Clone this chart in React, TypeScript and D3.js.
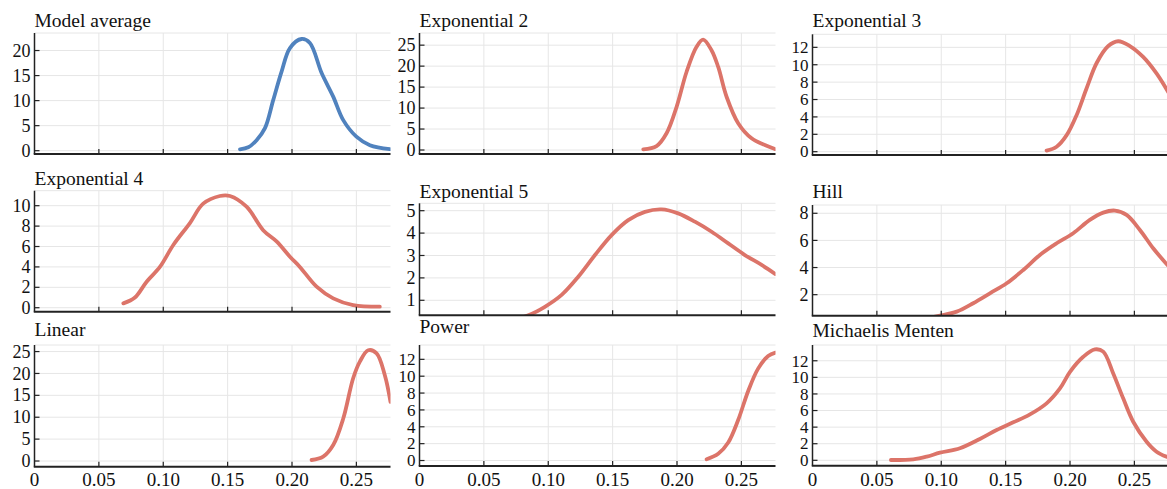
import * as d3 from 'd3';

const W = 1167;
const H = 489;

const BLUE = '#5082be';
const RED = '#dc7469';

const titles = ['Model average', 'Exponential 2', 'Exponential 3', 'Exponential 4', 'Exponential 5', 'Hill', 'Linear', 'Power', 'Michaelis Menten'];

const xTicks = [0, 0.05, 0.1, 0.15, 0.2, 0.25];
const xTickLabels = ['0', '0.05', '0.10', '0.15', '0.20', '0.25'];

// y tick values per panel
const yTicksModelAvg = [0, 5, 10, 15, 20];
const yTicksExp2 = [0, 5, 10, 15, 20, 25];
const yTicksExp3 = [0, 2, 4, 6, 8, 10, 12];
const yTicksExp4 = [0, 2, 4, 6, 8, 10];
const yTicksExp5 = [1, 2, 3, 4, 5];
const yTicksHill = [2, 4, 6, 8];
const yTicksLinear = [0, 5, 10, 15, 20, 25];
const yTicksPower = [0, 2, 4, 6, 8, 10, 12];
const yTicksMM = [0, 2, 4, 6, 8, 10, 12];

// density curves: [x, density]
const modelAvg = [[0.1596, 0.28], [0.166, 0.68], [0.1725, 2.1], [0.179, 4.5], [0.1854, 10.1], [0.1919, 15.8], [0.1984, 20.5], [0.2074, 22.3], [0.2139, 21.5], [0.223, 15.5], [0.232, 10.8], [0.2398, 6.1], [0.25, 2.8], [0.2605, 1.1], [0.276, 0.3]];
const exp2 = [[0.1738, 0.17], [0.1841, 0.95], [0.1919, 4.0], [0.1997, 10.3], [0.2074, 18.6], [0.2152, 24.6], [0.2203, 26.3], [0.2268, 23.8], [0.232, 19.8], [0.2385, 12.7], [0.2475, 6.4], [0.2579, 2.8], [0.2682, 1.2], [0.276, 0.24]];
const exp3 = [[0.1818, 0.12], [0.1896, 0.57], [0.1974, 1.9], [0.2051, 4.2], [0.2129, 7.3], [0.2207, 10.2], [0.2297, 12.15], [0.2374, 12.7], [0.2465, 12.15], [0.2568, 10.9], [0.2672, 9.0], [0.2765, 6.8]];
const exp4 = [[0.069, 0.43], [0.078, 1.0], [0.0871, 2.55], [0.0974, 4.0], [0.1078, 6.15], [0.1207, 8.3], [0.131, 10.2], [0.144, 10.95], [0.1518, 10.95], [0.1647, 9.9], [0.1776, 7.6], [0.188, 6.5], [0.1984, 5.0], [0.2061, 4.0], [0.2191, 2.06], [0.232, 0.92], [0.2475, 0.26], [0.2682, 0.1]];
const exp5 = [[0.07, 0.1], [0.0845, 0.33], [0.0974, 0.71], [0.1104, 1.24], [0.1233, 2.05], [0.1363, 3.02], [0.1492, 3.91], [0.1621, 4.58], [0.1751, 4.95], [0.188, 5.06], [0.2009, 4.88], [0.2139, 4.51], [0.2269, 4.06], [0.2398, 3.54], [0.2527, 3.02], [0.2657, 2.58], [0.2765, 2.17]];
const hill = [[0.085, 0.2], [0.099, 0.45], [0.112, 0.75], [0.1248, 1.37], [0.1378, 2.1], [0.1508, 2.84], [0.1637, 3.82], [0.1766, 4.93], [0.1896, 5.79], [0.2025, 6.53], [0.2154, 7.51], [0.2258, 8.05], [0.2349, 8.2], [0.2439, 7.88], [0.2543, 6.77], [0.2646, 5.42], [0.2765, 4.1]];
const linear = [[0.2152, 0.23], [0.2242, 0.99], [0.232, 3.65], [0.2398, 9.7], [0.2475, 18.9], [0.2527, 22.7], [0.2592, 25.3], [0.2657, 24.6], [0.2721, 19.6], [0.2765, 13.5]];
const power = [[0.223, 0.15], [0.232, 0.8], [0.2398, 2.14], [0.2475, 4.8], [0.2553, 8.25], [0.263, 10.9], [0.2708, 12.4], [0.2765, 12.8]];
const michaelis = [[0.0609, 0.04], [0.0783, 0.12], [0.0887, 0.44], [0.099, 0.92], [0.1145, 1.45], [0.13, 2.57], [0.143, 3.65], [0.1559, 4.58], [0.1689, 5.54], [0.1818, 6.87], [0.1922, 8.67], [0.2, 10.67], [0.2103, 12.48], [0.2193, 13.37], [0.2258, 13.1], [0.2335, 10.5], [0.2413, 7.47], [0.2491, 4.65], [0.2595, 2.24], [0.2672, 1.04], [0.275, 0.43]];

const seriesList = [modelAvg, exp2, exp3, exp4, exp5, hill, linear, power, michaelis];
const yTicksList = [yTicksModelAvg, yTicksExp2, yTicksExp3, yTicksExp4, yTicksExp5, yTicksHill, yTicksLinear, yTicksPower, yTicksMM];
const yDomains = [[-0.66, 23.5], [-0.95, 27.9], [-0.38, 13.5], [-0.39, 11.47], [0.33, 5.33], [0.45, 8.61], [-1.3, 26.5], [-0.65, 13.7], [-0.65, 13.9]];

// panel boxes: left, top, bottom, title baseline
const panelLefts = [34.5, 419.5, 812.5, 34.5, 419.5, 812.5, 34.5, 419.5, 812.5];
const panelTops = [33, 33, 34.3, 190.7, 203.3, 205, 345, 345, 345];
const panelBottoms = [154, 154, 155, 311.7, 315.3, 315.7, 466.7, 466, 465.7];
const titleBaselines = [26.7, 26.7, 26.7, 185, 198.3, 198.3, 335.7, 333.3, 336.7];

const X_MAX = 0.2765;
const PANEL_W = 356;
const FONT = '"Liberation Serif", "Times New Roman", serif';

function Panel({ i }: { i: number }) {
  const left = panelLefts[i];
  const top = panelTops[i];
  const bottom = panelBottoms[i];
  const x = d3.scaleLinear().domain([0, X_MAX]).range([left, left + PANEL_W]);
  const y = d3.scaleLinear().domain(yDomains[i]).range([bottom, top]);
  const line = d3
    .line<number[]>()
    .x(d => x(d[0]))
    .y(d => y(d[1]))
    .curve(d3.curveCatmullRom.alpha(0.5));
  const color = i === 0 ? BLUE : RED;
  const clipId = `clip-${i}`;
  const showX = i >= 6;
  const tickStep = y(yTicksList[i][0]) - y(yTicksList[i][1]);
  const tickFont = tickStep < 19 ? 17 : 18;

  return (
    <g>
      <defs>
        <clipPath id={clipId}>
          <rect x={left} y={top} width={PANEL_W} height={bottom - top} />
        </clipPath>
      </defs>
      {/* grid */}
      <line x1={left} x2={left + PANEL_W} y1={top} y2={top} stroke="#e6e6e6" strokeWidth={1} />
      {yTicksList[i].map(t => (
        <line key={`gy${t}`} x1={left} x2={left + PANEL_W} y1={y(t)} y2={y(t)} stroke="#e6e6e6" strokeWidth={1} />
      ))}
      {xTicks.slice(1).map(t => (
        <line key={`gx${t}`} x1={x(t)} x2={x(t)} y1={top} y2={bottom} stroke="#e6e6e6" strokeWidth={1} />
      ))}
      {/* curve */}
      <path d={line(seriesList[i] as number[][]) || ''} fill="none" stroke={color} strokeWidth={3.8} strokeLinecap="round" clipPath={`url(#${clipId})`} />
      {/* axes */}
      <line x1={left} x2={left} y1={top} y2={bottom} stroke="#222" strokeWidth={1.5} />
      <line x1={left - 0.75} x2={left + PANEL_W} y1={bottom} y2={bottom} stroke="#222" strokeWidth={2} />
      {yTicksList[i].map(t => (
        <g key={`ty${t}`}>
          <line x1={left} x2={left + 5} y1={y(t)} y2={y(t)} stroke="#222" strokeWidth={1.2} />
          <text x={left - 4} y={y(t)} dy="0.34em" textAnchor="end" fontSize={tickFont} fontFamily={FONT} fill="#111">
            {t}
          </text>
        </g>
      ))}
      {xTicks.slice(1).map(t => (
        <line key={`tx${t}`} x1={x(t)} x2={x(t)} y1={bottom} y2={bottom - 5} stroke="#222" strokeWidth={1.2} />
      ))}
      {showX &&
        xTicks.map((t, k) => (
          <text key={`lx${t}`} x={x(t)} y={486} textAnchor="middle" fontSize={19} fontFamily={FONT} fill="#111">
            {xTickLabels[k]}
          </text>
        ))}
      <text x={left} y={titleBaselines[i]} fontSize={19.5} fontFamily={FONT} fill="#111">
        {titles[i]}
      </text>
    </g>
  );
}

export default function App() {
  return (
    <div style={{ position: 'fixed', left: 0, top: 0, width: W, height: H, background: '#fff' }}>
      <svg width={W} height={H} viewBox={`0 0 ${W} ${H}`} style={{ display: 'block' }}>
        <rect width={W} height={H} fill="#fff" />
        {titles.map((_, i) => (
          <Panel key={i} i={i} />
        ))}
      </svg>
    </div>
  );
}
